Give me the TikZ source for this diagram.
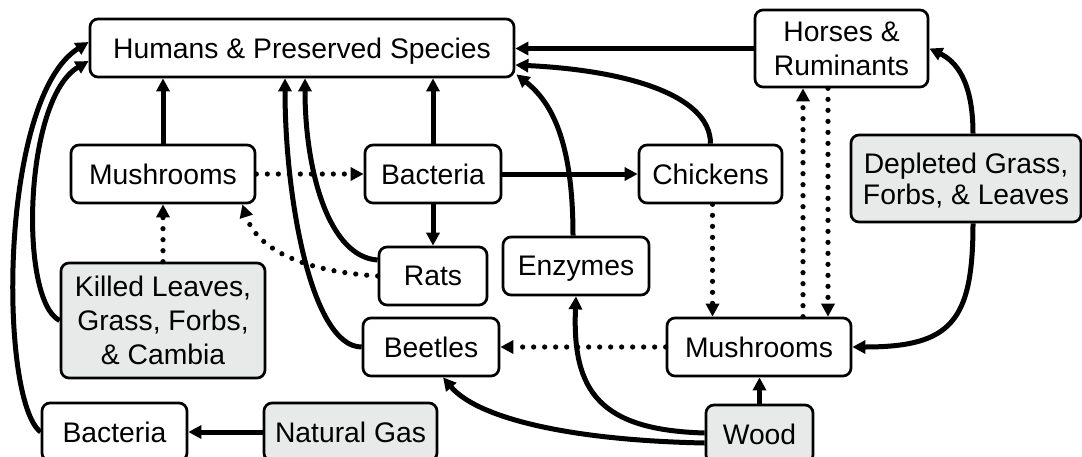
\documentclass[tikz,border=0pt]{standalone}
\usepackage{fontspec}
\setmainfont{Liberation Sans}
\usetikzlibrary{arrows.meta,calc}
\definecolor{boxgray}{RGB}{232,234,233}
\begin{document}
\begin{tikzpicture}[x=1pt,y=-1pt,
  box/.style={draw, line width=2.7pt, rounded corners=8pt, fill=white, inner sep=0pt,
    font=\fontsize{28.3}{34}\selectfont, align=center, text depth=0pt},
  gbox/.style={box, fill=boxgray},
  sz/.style 2 args={minimum width=#1pt, minimum height=#2pt},
  arr/.style={line width=5pt, -{Triangle[length=13pt,width=13pt]}},
  dotarr/.style={line width=5.2pt, line cap=round, dash pattern=on 0pt off 11pt,
    -{Triangle[length=13pt,width=13pt]}},
]
\useasboundingbox (0,0) rectangle (1082,456);

% nodes
\node[box, sz={424}{58}] (hum) at (302,48) {Humans \& Preserved Species};
\node[box, sz={173}{77}] (hor) at (841.5,48.5) {Horses \&\\Ruminants};
\node[box, sz={184}{58}] (mu1) at (163,174) {Mushrooms};
\node[box, sz={136}{58}] (ba1) at (433,174) {Bacteria};
\node[box, sz={143}{58}] (chk) at (710.5,174) {Chickens};
\node[gbox, sz={230}{87}, font=\fontsize{28.3}{31}\selectfont] (dep) at (966,178.5) {Depleted Grass,\\Forbs, \& Leaves};
\node[gbox, sz={204}{115}] (kil) at (163,320.5) {Killed Leaves,\\Grass, Forbs,\\\& Cambia};
\node[box, sz={108}{58}] (rat) at (433,276) {Rats};
\node[box, sz={146}{58}] (enz) at (576,266) {Enzymes};
\node[box, sz={136}{58}] (bee) at (431,347) {Beetles};
\node[box, sz={184}{58}] (mu2) at (759,347) {Mushrooms};
\node[box, sz={145}{58}] (ba2) at (114.5,432) {Bacteria};
\node[gbox, sz={173}{58}] (gas) at (350.5,432) {Natural Gas};
\node[gbox, sz={107}{58}] (wood) at (759.5,434) {Wood};

% helper coordinates
\coordinate (m2a) at ($(mu2.north)+(44,0)$);
\coordinate (m2b) at ($(mu2.north)+(69,0)$);
\coordinate (chs) at ($(chk.south)+(2,0)$);

% straight solid connectors
\draw[arr] (mu1.north) -- (mu1.north |- hum.south);
\draw[arr] (ba1.north) -- (ba1.north |- hum.south);
\draw[arr] (ba1.south) -- (rat.north);
\draw[arr] (ba1.east) -- (chk.west);
\draw[arr] (hor.west) -- (hor.west -| hum.east);
\draw[arr] (gas.west) -- (ba2.east);
\draw[arr] (wood.north) -- (wood.north |- mu2.south);

% dotted connectors
\draw[dotarr] (mu1.east) -- (ba1.west);
\draw[dotarr] (kil.north) -- (mu1.south);
\draw[dotarr] (rat.west) .. controls +(-79,-5) and +(14,43) .. ($(mu1.south east)+(-14,0)$);
\draw[dotarr] (mu2.west) -- (bee.east);
\draw[dotarr] (m2a) -- (m2a |- hor.south);
\draw[dotarr] (m2b |- hor.south) -- (m2b);
\draw[dotarr] (chs) -- (chs |- mu2.north);

% curved solid connectors
\draw[arr] ($(rat.west)+(0,-16)$) .. controls +(-49,-3) and +(0,92) .. ($(hum.south)+(3,0)$);
\draw[arr] (bee.west) .. controls +(-50,0) and +(0,120) .. ($(hum.south)+(-17,0)$);
\draw[arr] (kil.west) .. controls +(-41,-20) and +(-65,38) .. ($(hum.west)+(0,13)$);
\draw[arr] (ba2.west) .. controls +(-42,-32) and +(-90,56) .. ($(hum.west)+(0,-6)$);
\draw[arr] ($(wood.west)+(0,9)$) .. controls +(-146,-3) and +(32,38) .. ($(bee.south)+(12,0)$);
\draw[arr] ($(wood.west)+(0,-1)$) .. controls +(-105,-3) and +(-4,95) .. (enz.south);
\draw[arr] ($(enz.north)+(-3,0)$) .. controls +(0,-97) and +(34,27) .. ($(hum.south east)+(1,-4)$);
\draw[arr] (chk.north) .. controls +(0,-50) and +(107,5) .. ($(hum.east)+(0,17)$);
\draw[arr] ($(dep.north)+(7,0)$) .. controls +(0,-55) and +(25,12) .. (hor.east);
\draw[arr] ($(dep.south)+(7,0)$) .. controls +(0,98) and +(99,0) .. (mu2.east);
\end{tikzpicture}
\end{document}
